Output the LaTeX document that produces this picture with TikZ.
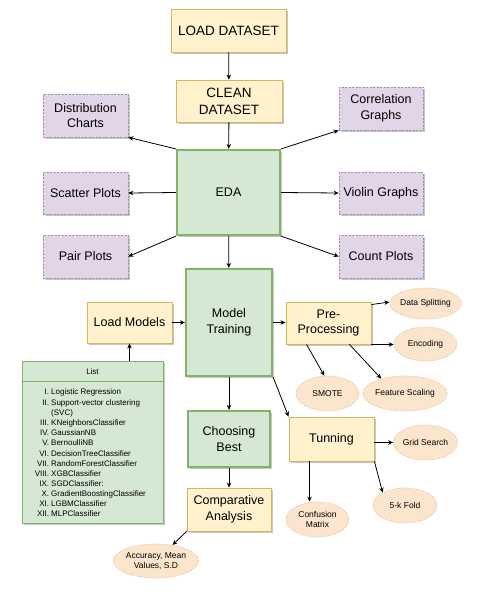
\documentclass[tikz,border=0pt]{standalone}
\usepackage{fontspec}
\setmainfont{Liberation Sans}
\usetikzlibrary{arrows.meta,shapes.geometric,shadows}
\definecolor{yfill}{HTML}{FFF2CC}
\definecolor{ydraw}{HTML}{D6B656}
\definecolor{gfill}{HTML}{D5E8D4}
\definecolor{gdraw}{HTML}{82B366}
\definecolor{pfill}{HTML}{E1D5E7}
\definecolor{pdraw}{HTML}{9E8CAA}
\definecolor{ofill}{HTML}{FCE5CD}
\definecolor{odraw}{HTML}{E8C39C}
\tikzset{
  shad/.style={drop shadow={shadow xshift=1.5pt,shadow yshift=-1.5pt,opacity=0.22,fill=black}},
  ybox/.style={rectangle,fill=yfill,draw=ydraw,line width=0.9pt,inner sep=0pt,align=center,shad,
    font=\fontsize{12.5}{15.5}\selectfont},
  bigy/.style={ybox,font=\fontsize{13.5}{17.3}\selectfont},
  gbox/.style={rectangle,fill=gfill,draw=gdraw,line width=2.2pt,inner sep=0pt,align=center,shad,
    font=\fontsize{12.5}{15.5}\selectfont},
  pbox/.style={rectangle,fill=pfill,draw=pdraw,line width=0.7pt,dash pattern=on 2pt off 1.5pt,inner sep=0pt,align=center,shad,
    minimum width=85pt,font=\fontsize{12.5}{15.7}\selectfont},
  obox/.style={ellipse,fill=ofill,draw=odraw,line width=0.7pt,dash pattern=on 1.5pt off 1.5pt,inner sep=0pt,align=center,
    font=\fontsize{8.5}{10}\selectfont},
  listbox/.style={rectangle,fill=gfill,draw=gdraw,line width=0.8pt,inner sep=0pt,shad},
  arr/.style={-{Stealth[length=5pt,width=4.5pt]},line width=0.8pt,black},
  itemtxt/.style={inner sep=0pt,font=\fontsize{8}{9.6}\selectfont}
}
\begin{document}
\begin{tikzpicture}[x=1pt,y=-1pt]
\useasboundingbox (0,0) rectangle (482,595);
% top chain
\node[bigy,minimum width=115pt,minimum height=43pt] (load) at (228.5,30.5) {LOAD DATASET};
\node[bigy,minimum width=106pt,minimum height=42pt] (clean) at (229,101) {CLEAN\\DATASET};
\node[gbox,minimum width=103pt,minimum height=85pt] (eda) at (228.5,192.5) {EDA};
% EDA outputs
\node[pbox,minimum height=43pt] (dist) at (85.5,115.5) {Distribution\\Charts};
\node[pbox,minimum height=42pt] (scat) at (85.5,193) {Scatter Plots};
\node[pbox,minimum height=43pt] (pair) at (85.5,256.5) {Pair Plots};
\node[pbox,minimum width=84pt,minimum height=43pt] (corr) at (381,108.5) {Correlation\\Graphs};
\node[pbox,minimum width=84pt,minimum height=42pt] (viol) at (381,193) {Violin Graphs};
\node[pbox,minimum width=84pt,minimum height=43pt] (count) at (381,256.5) {Count Plots};
% middle
\node[gbox,minimum width=86pt,minimum height=107pt] (mt) at (229,322.5) {Model\\Training};
\node[ybox,minimum width=85pt,minimum height=41pt] (lm) at (129.5,322.5) {Load Models};
\node[gbox,minimum width=82pt,minimum height=56pt] (cb) at (229,439) {Choosing\\Best};
\node[ybox,minimum width=84pt,minimum height=43pt] (ca) at (229,509.5) {Comparative\\Analysis};
\node[obox,minimum width=64pt,minimum height=34pt] (acc) at (156,561) {Accuracy, Mean\\Values, S.D};
\node[ybox,minimum width=85pt,minimum height=42pt] (pp) at (328.5,323) {Pre-\\Processing};
\node[obox,minimum width=63pt,minimum height=31pt] (ds) at (425.5,303.5) {Data Splitting};
\node[obox,minimum width=63pt,minimum height=34pt] (enc) at (425.5,344) {Encoding};
\node[obox,minimum width=63pt,minimum height=35pt] (smote) at (327.5,393.5) {SMOTE};
\node[obox,minimum width=64pt,minimum height=35pt] (fs) at (405,393.5) {Feature Scaling};
\node[ybox,minimum width=85pt,minimum height=44pt] (tun) at (331.5,439) {Tunning};
\node[obox,minimum width=63pt,minimum height=35pt] (gs) at (425.5,442.5) {Grid Search};
\node[obox,minimum width=64pt,minimum height=35pt] (fold) at (405,505.5) {5-k Fold};
\node[obox,minimum width=63pt,minimum height=35pt] (conf) at (317.5,519.5) {Confusion\\Matrix};
% list
\node[listbox,minimum width=141pt,minimum height=162pt] (list) at (92.5,442) {};
\draw[gdraw,line width=0.8pt] ([yshift=-21pt]list.north west) -- ([yshift=-21pt]list.north east);
\node[itemtxt] (listhead) at (92.5,372) {List};
\foreach \n/\t/\y [count=\i] in {I./Logistic Regression/391.7,II./Support-vector clustering/402,/(SVC)/412,
  III./KNeighborsClassifier/422.3,IV./GaussianNB/432.7,V./BernoulliNB/442.7,VI./DecisionTreeClassifier/453,
  VII./RandomForestClassifier/463,VIII./XGBClassifier/473,IX./SGDClassifier:/483,
  X./GradientBoostingClassifier/493.3,XI./LGBMClassifier/503.3,XII./MLPClassifier/513.7}{
  \node[itemtxt,anchor=base east] (num\i) at (49.3,\y+3) {\n};
  \node[itemtxt,anchor=base west] (itm\i) at (51,\y+3) {\t};
}
% arrows
\draw[arr] (load) -- (clean);
\draw[arr] (clean) -- (eda);
\draw[arr] (eda.north west) -- (dist.south east);
\draw[arr] (eda.north east) -- (corr.south west);
\draw[arr] (eda.west) -- (scat.east);
\draw[arr] (eda.east) -- (viol.west);
\draw[arr] (eda.south west) -- (pair.east);
\draw[arr] (eda.south east) -- (count.west);
\draw[arr] (eda) -- (mt);
\draw[arr] (lm) -- (mt);
\draw[arr] (lm.south |- list.north) -- (lm.south);
\draw[arr] (mt.east) -- (mt.east -| pp.west);
\draw[arr] (mt.south east) -- (tun.north west);
\draw[arr] (mt) -- (cb);
\draw[arr] (cb) -- (ca);
\draw[arr] (ca.south west) -- (acc);
\draw[arr] ([yshift=-3pt]pp.north east) -- ([yshift=1.5pt]ds.west);
\draw[arr] (pp.south east) -- (pp.south east -| enc.west);
\draw[arr] ([xshift=21pt]pp.south west) -- (smote.100);
\draw[arr] ([xshift=-22pt]pp.south east) -- (fs.148);
\draw[arr] (tun.east |- gs.west) -- (gs.west);
\draw[arr] ([xshift=21pt]tun.south west) -- ([xshift=21pt]tun.south west |- conf.north);
\draw[arr] (tun.south east) -- (fold.150);
\end{tikzpicture}
\end{document}
